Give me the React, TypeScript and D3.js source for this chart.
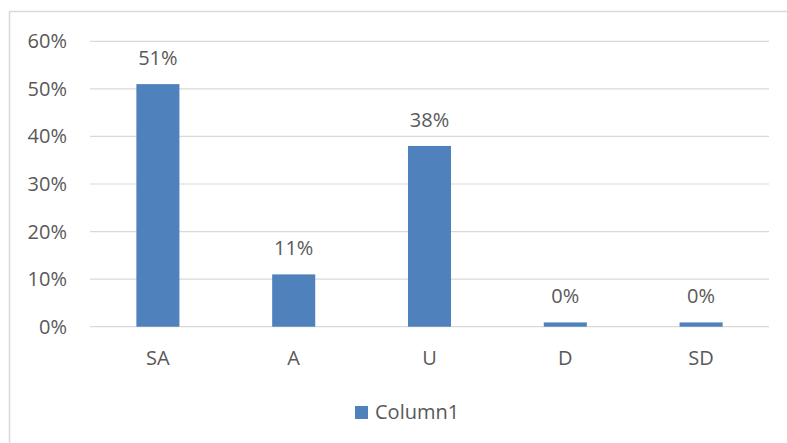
import { scaleBand, scaleLinear } from "d3";

const categories = ["SA", "A", "U", "D", "SD"];
const values = [0.51, 0.11, 0.38, 0.009, 0.009];
const dataLabels = ["51%", "11%", "38%", "0%", "0%"];
const yTicks = [0, 0.1, 0.2, 0.3, 0.4, 0.5, 0.6];
const seriesName = "Column1";

const width = 787;
const height = 443;
const left = 90;
const right = 769;
const top = 41.3;
const bottom = 326.7;

const font = "'Open Sans', 'Noto Sans', sans-serif";
const fontSize = 20;
const textColor = "#595959";
const gridColor = "#d9d9d9";
const barColor = "#4f81bd";

function App() {
  const x = scaleBand<string>()
    .domain(categories)
    .range([left, right])
    .paddingInner(0.683)
    .paddingOuter(0.3415);

  const y = scaleLinear().domain([0, 0.6]).range([bottom, top]);

  const fmt = (v: number) => `${Math.round(v * 100)}%`;

  return (
    <svg
      width={width}
      height={height}
      style={{ position: "absolute", left: 0, top: 0, background: "#fff" }}
      fontFamily={font}
    >
      <rect x={9.5} y={11.5} width={800} height={500} fill="#fff" stroke={gridColor} strokeWidth={1.5} />

      {/* gridlines + y labels */}
      {yTicks.map((t) => (
        <g key={t}>
          <line x1={left} x2={right} y1={y(t)} y2={y(t)} stroke={gridColor} strokeWidth={1.2} />
          <text x={67} y={y(t)} dy="0.35em" textAnchor="end" fontSize={fontSize} fill={textColor}>
            {fmt(t)}
          </text>
        </g>
      ))}

      {/* bars */}
      {categories.map((c, i) => (
        <g key={c}>
          <rect
            x={x(c)}
            y={y(values[i])}
            width={x.bandwidth()}
            height={y(0) - y(values[i])}
            fill={barColor}
          />
          <text
            x={x(c)! + x.bandwidth() / 2}
            y={y(values[i]) - 19}
            textAnchor="middle"
            fontSize={fontSize}
            fill={textColor}
          >
            {dataLabels[i]}
          </text>
          <text
            x={x(c)! + x.bandwidth() / 2}
            y={365}
            textAnchor="middle"
            fontSize={fontSize}
            fill={textColor}
          >
            {c}
          </text>
        </g>
      ))}

      {/* legend */}
      <rect x={355} y={406} width={13} height={13} fill={barColor} />
      <text x={375} y={419} fontSize={fontSize} fill={textColor}>
        {seriesName}
      </text>
    </svg>
  );
}

export default App;
